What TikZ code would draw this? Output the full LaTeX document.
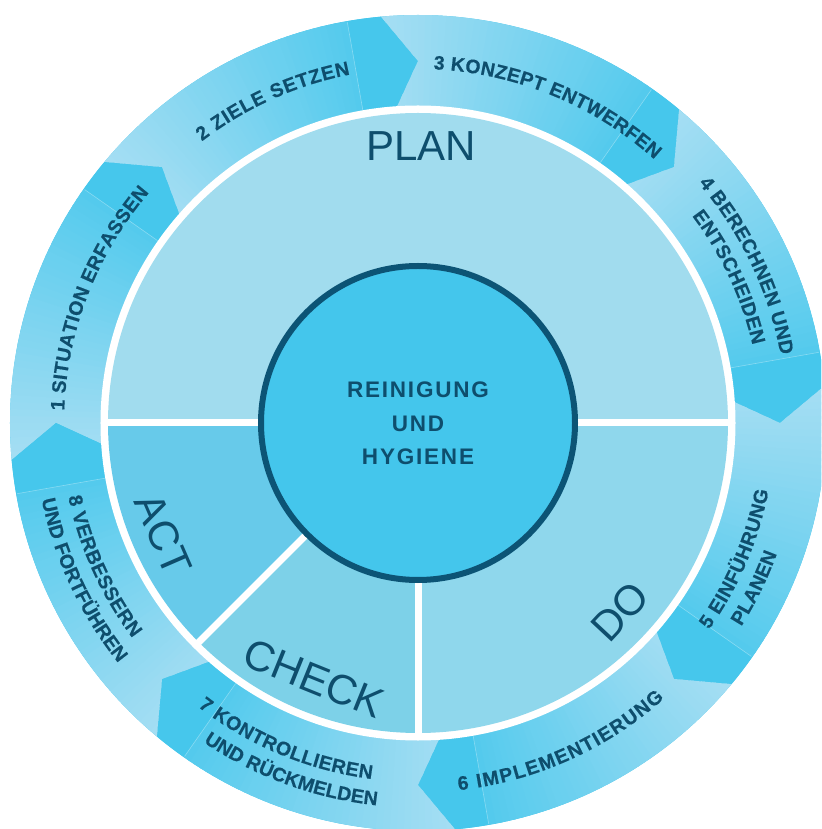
\documentclass[tikz,border=0pt]{standalone}
\usepackage{fontspec}
\setmainfont{Liberation Sans}
\usetikzlibrary{decorations.text}
\definecolor{planc}{HTML}{A1DCEE}
\definecolor{doc}{HTML}{8FD7EC}
\definecolor{checkc}{HTML}{7DD1E8}
\definecolor{actc}{HTML}{67CAEA}
\definecolor{centerc}{HTML}{44C6EC}
\definecolor{borderc}{HTML}{0C5475}
\definecolor{txt}{HTML}{0E4E6D}
\definecolor{ringdark}{HTML}{46C7EC}
\definecolor{ringlight}{HTML}{A6DEF3}
\newfontfamily\ringfam{Liberation Sans}[FakeBold=0.4]
\newcommand\ringfont{\ringfam\fontsize{19.5}{21}\selectfont\bfseries}
% #1 radius, #2 start angle, #3 end angle, #4 text ; path extended slightly at both ends
\newcommand\ringlabel[4]{%
  \pgfmathsetmacro\rlS{#2+0.3*sign(#2-#3)}%
  \pgfmathsetmacro\rlE{#3-0.3*sign(#2-#3)}%
  \path[decorate,decoration={text along path,text align=fit to path,text color=txt,text={|\ringfont|#4}}] (\rlS:#1) arc[start angle=\rlS,end angle=\rlE,radius=#1];}
\tikzset{
  pielabel/.style={text=txt,font=\fontsize{42}{44}\selectfont,inner sep=0pt},
  divider/.style={white,line width=7pt},
  faint/.style={white,opacity=.35,line width=.6pt}
}
\begin{document}
\begin{tikzpicture}[x=1pt,y=1pt]
\useasboundingbox (-418,-406) rectangle (403,423);
\clip (-418,-406) rectangle (403,423);
% ring base
\fill[ringdark,even odd rule] (0,0) circle[radius=408] (0,0) circle[radius=317];
% segments
\foreach \T in {180,135,90,45,0,-45,-90,-135}{
  \pgfmathsetmacro\H{\T-45}
  \pgfmathsetmacro\tA{\T+5.2}
  \pgfmathsetmacro\tB{\T+3.8}
  \pgfmathsetmacro\hL{\H+10}
  \pgfmathsetmacro\hA{\H+5.2}
  \pgfmathsetmacro\hB{\H+3.8}
  \begin{scope}
    \clip (\tA:408) arc[start angle=\tA,end angle=\hL,radius=408] -- (\hL:317) arc[start angle=\hL,end angle=\tB,radius=317] -- (\T:362) -- cycle;
    \foreach \i in {0,...,40}{
      \pgfmathsetmacro\aa{\T+6-\i}
      \pgfmathsetmacro\ab{\T+6-\i-1.4}
      \pgfmathtruncatemacro\p{\i*85/40}
      \fill[ringdark!\p!ringlight] (0,0) -- (\aa:420) arc[start angle=\aa,end angle=\ab,radius=420] -- cycle;
    }
  \end{scope}
  \fill[ringdark] (\hL:408) arc[start angle=\hL,end angle=\hA,radius=408] -- (\H:362) -- (\hB:317) arc[start angle=\hB,end angle=\hL,radius=317] -- cycle;
  \draw[faint] (\hL:318) -- (\hL:407);
}
% ring labels
\ringlabel{354}{177.7}{139.7}{1 SITUATION ERFASSEN}
\ringlabel{355}{127.2}{101.3}{2 ZIELE SETZEN}
\ringlabel{354}{87.2}{48.4}{3 KONZEPT ENTWERFEN}
\ringlabel{369}{40.2}{10.9}{4 BERECHNEN UND}
\ringlabel{343.5}{36.8}{13.4}{ENTSCHEIDEN}
\ringlabel{357}{-35.1}{-11.2}{5 EINFÜHRUNG}
\ringlabel{382}{-31.9}{-20.3}{PLANEN}
\ringlabel{369.5}{-83.4}{-48.5}{6 IMPLEMENTIERUNG}
\ringlabel{359}{-127.5}{-97.7}{7 KONTROLLIEREN}
\ringlabel{384.6}{-123.6}{-96.7}{UND RÜCKMELDEN}
\ringlabel{357.5}{192.2}{216.7}{8 VERBESSERN}
\ringlabel{384}{191.8}{218.4}{UND FORTFÜHREN}
% pie
\fill[white] (0,0) circle[radius=317.5];
\fill[planc] (0,0) -- (0:310) arc[start angle=0,end angle=180,radius=310] -- cycle;
\fill[doc] (0,0) -- (0:310) arc[start angle=0,end angle=-90,radius=310] -- cycle;
\fill[checkc] (0,0) -- (-90:310) arc[start angle=-90,end angle=-135,radius=310] -- cycle;
\fill[actc] (0,0) -- (-135:310) arc[start angle=-135,end angle=-180,radius=310] -- cycle;
\draw[divider] (180:314) -- (0:314);
\draw[divider] (0,0) -- (-90:314);
\draw[divider] (0,0) -- (-135:314);
% pie labels
\node[pielabel] (plan) at (89.4:276.5) {PLAN};
\node[pielabel,rotate=47] (do) at (-43:276.5) {DO};
\node[pielabel,rotate=-22] (check) at (-112.2:276) {CHECK};
\node[pielabel,rotate=-66.5] (act) at (-156.4:278) {ACT};
% center
\fill[centerc] (0,0) circle[radius=157];
\draw[borderc,line width=6pt] (0,0) circle[radius=157];
\node[text=txt,align=center,inner sep=0pt,font=\fontsize{22.5}{33.2}\selectfont\bfseries\addfontfeatures{LetterSpace=8}] (core) at (0,-0.3) {REINIGUNG\\UND\\HYGIENE};
\end{tikzpicture}
\end{document}
